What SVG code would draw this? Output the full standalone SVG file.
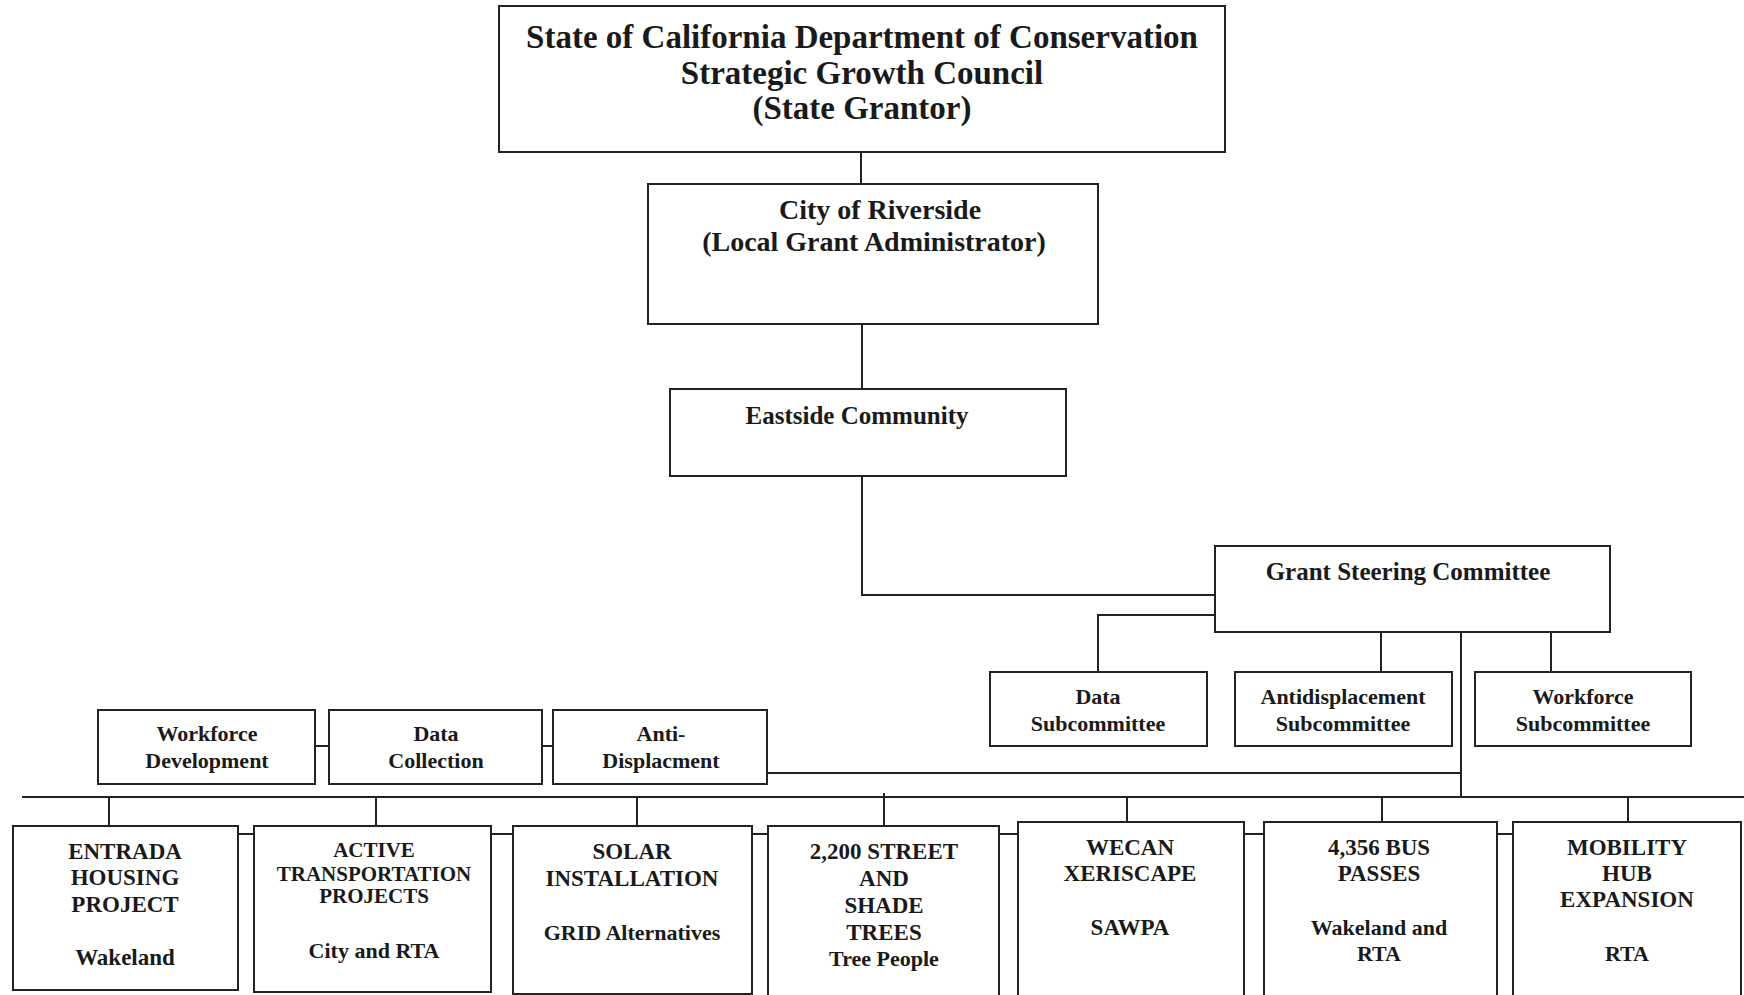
<svg xmlns="http://www.w3.org/2000/svg" width="1744" height="995" viewBox="0 0 1744 995">
<style>
.box{fill:#fff;stroke:#222;stroke-width:2}
.ln{fill:none;stroke:#222;stroke-width:2}
text{font-family:"Liberation Serif","Times New Roman",serif;font-weight:bold;fill:#1a1a1a;text-anchor:middle}
.t33{font-size:33px}
.t28{font-size:28px}
.t25{font-size:25px}
.t23{font-size:23px}
.t22{font-size:22px}
.t21{font-size:21px}
</style>
<rect width="1744" height="995" fill="#fff"/>
<g id="connectors">
<path class="ln" d="M861 152V184"/>
<path class="ln" d="M862 324V389"/>
<path class="ln" d="M862 476V595H1215"/>
<path class="ln" d="M1215 615H1098V672"/>
<path class="ln" d="M1381 632V672"/>
<path class="ln" d="M1551 632V672"/>
<path class="ln" d="M1461 632V797"/>
<path class="ln" d="M767 773H1461"/>
<path class="ln" d="M315 746H329M542 746H553"/>
<path class="ln" d="M22 797H1744"/>
<path class="ln" d="M109 797V826M376 797V826M637 797V826M884 793V826M1127 797V822M1382 797V822M1628 797V840"/>
<path class="ln" d="M238 834H254M491 834H513M752 834H768M999 834H1018M1244 834H1264M1497 834H1513"/>
<path class="ln" d="M669 835V863M917 835V853" style="stroke-width:1.5"/>
</g>
<g id="state">
<rect class="box" x="499" y="6" width="726" height="146"/>
<text class="t33" x="862" y="48">State of California Department of Conservation</text>
<text class="t33" x="862" y="84">Strategic Growth Council</text>
<text class="t33" x="862" y="119">(State Grantor)</text>
</g>
<g id="city">
<rect class="box" x="648" y="184" width="450" height="140"/>
<text class="t28" x="880" y="219">City of Riverside</text>
<text class="t28" x="874" y="251">(Local Grant Administrator)</text>
</g>
<g id="eastside">
<rect class="box" x="670" y="389" width="396" height="87"/>
<text class="t25" x="857" y="424">Eastside Community</text>
</g>
<g id="steering">
<rect class="box" x="1215" y="546" width="395" height="86"/>
<text class="t25" x="1408" y="580">Grant Steering Committee</text>
</g>
<g id="data-sub">
<rect class="box" x="990" y="672" width="217" height="74"/>
<text class="t22" x="1098" y="704">Data</text>
<text class="t22" x="1098" y="731">Subcommittee</text>
</g>
<g id="anti-sub">
<rect class="box" x="1235" y="672" width="217" height="74"/>
<text class="t22" x="1343" y="704">Antidisplacement</text>
<text class="t22" x="1343" y="731">Subcommittee</text>
</g>
<g id="work-sub">
<rect class="box" x="1475" y="672" width="216" height="74"/>
<text class="t22" x="1583" y="704">Workforce</text>
<text class="t22" x="1583" y="731">Subcommittee</text>
</g>
<g id="workforce-dev">
<rect class="box" x="98" y="710" width="217" height="74"/>
<text class="t22" x="207" y="741">Workforce</text>
<text class="t22" x="207" y="768">Development</text>
</g>
<g id="data-coll">
<rect class="box" x="329" y="710" width="213" height="74"/>
<text class="t22" x="436" y="741">Data</text>
<text class="t22" x="436" y="768">Collection</text>
</g>
<g id="anti-disp">
<rect class="box" x="553" y="710" width="214" height="74"/>
<text class="t22" x="661" y="741">Anti-</text>
<text class="t22" x="661" y="768">Displacment</text>
</g>
<g id="entrada">
<rect class="box" x="13" y="826" width="225" height="164"/>
<text class="t23" x="125" y="859">ENTRADA</text>
<text class="t23" x="125" y="885">HOUSING</text>
<text class="t23" x="125" y="912">PROJECT</text>
<text class="t23" x="125" y="965">Wakeland</text>
</g>
<g id="active">
<rect class="box" x="254" y="826" width="237" height="166"/>
<text class="t21" x="374" y="857">ACTIVE</text>
<text class="t21" x="374" y="881">TRANSPORTATION</text>
<text class="t21" x="374" y="903">PROJECTS</text>
<text class="t22" x="374" y="958">City and RTA</text>
</g>
<g id="solar">
<rect class="box" x="513" y="826" width="239" height="168"/>
<text class="t23" x="632" y="859">SOLAR</text>
<text class="t23" x="632" y="886">INSTALLATION</text>
<text class="t22" x="632" y="940">GRID Alternatives</text>
</g>
<g id="trees">
<rect class="box" x="768" y="826" width="231" height="175"/>
<text class="t23" x="884" y="859">2,200 STREET</text>
<text class="t23" x="884" y="886">AND</text>
<text class="t23" x="884" y="913">SHADE</text>
<text class="t23" x="884" y="940">TREES</text>
<text class="t22" x="884" y="966">Tree People</text>
</g>
<g id="wecan">
<rect class="box" x="1018" y="822" width="226" height="180"/>
<text class="t23" x="1130" y="855">WECAN</text>
<text class="t23" x="1130" y="881">XERISCAPE</text>
<text class="t23" x="1130" y="935">SAWPA</text>
</g>
<g id="bus">
<rect class="box" x="1264" y="822" width="233" height="180"/>
<text class="t23" x="1379" y="855">4,356 BUS</text>
<text class="t23" x="1379" y="881">PASSES</text>
<text class="t22" x="1379" y="935">Wakeland and</text>
<text class="t22" x="1379" y="961">RTA</text>
</g>
<g id="mobility">
<rect class="box" x="1513" y="822" width="228" height="180"/>
<text class="t23" x="1627" y="855">MOBILITY</text>
<text class="t23" x="1627" y="881">HUB</text>
<text class="t23" x="1627" y="907">EXPANSION</text>
<text class="t22" x="1627" y="961">RTA</text>
</g>
</svg>
